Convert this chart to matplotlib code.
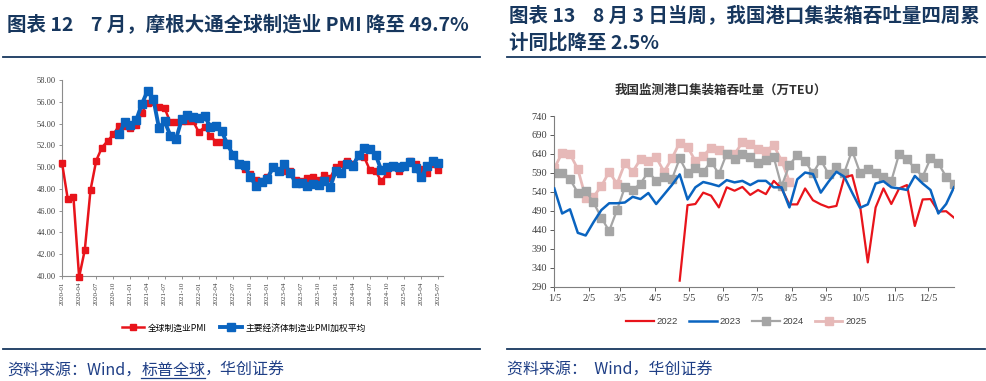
import numpy as np
import matplotlib
matplotlib.use("Agg")
import matplotlib.pyplot as plt
from matplotlib.lines import Line2D

plt.rcParams['font.family'] = ['Liberation Serif', 'Noto Sans CJK SC']
CJK = ['Noto Sans CJK SC', 'DejaVu Sans']

# ---- left chart: JPMorgan global manufacturing PMI, monthly 2020-01 .. 2025-07
months = [f"{y}-{m:02d}" for y in range(2020, 2026) for m in range(1, 13)][:67]
global_pmi = [
    50.4, 47.1, 47.3, 39.9, 42.4, 47.9, 50.6, 51.8, 52.4, 53.0, 53.8, 53.8,
    53.6, 53.9, 55.0, 55.9, 56.0, 55.5, 55.4, 54.1, 54.1, 54.2, 54.2, 54.2,
    53.2, 53.7, 52.9, 52.3, 52.3, 52.2, 51.1, 50.3, 49.8, 49.4, 48.8, 48.7,
    49.1, 50.0, 49.6, 49.6, 49.6, 48.8, 48.7, 49.0, 49.1, 48.8, 49.3, 49.0,
    50.0, 50.3, 50.6, 50.3, 51.0, 50.9, 49.7, 49.6, 48.7, 49.4, 50.0, 49.6,
    50.1, 50.6, 50.3, 49.8, 49.5, 50.3, 49.7,
]
major_pmi = [None] * 10 + [
    53.0, 54.1,
    53.9, 54.3, 55.8, 57.0, 56.3, 53.6, 54.2, 52.9, 52.6, 54.4, 54.8, 54.6,
    54.5, 54.7, 53.7, 53.8, 53.3, 52.1, 51.1, 50.3, 50.2, 49.1, 48.3, 48.6,
    48.9, 50.0, 49.6, 50.25, 49.5, 48.5, 48.5, 48.3, 48.45, 48.4, 48.75, 48.2,
    49.6, 49.5, 50.3, 50.1, 51.1, 51.8, 51.7, 51.1, 49.7, 50.0, 50.1, 50.0,
    50.1, 50.5, 49.9, 49.05, 50.1, 50.55, 50.4,
]

# ---- right chart: weekly container throughput (10k TEU), 52 weeks from 1/5
month_ticks = ["1/5", "2/5", "3/5", "4/5", "5/5", "6/5",
               "7/5", "8/5", "9/5", "10/5", "11/5", "12/5"]
month_tick_days = [5, 36, 64, 95, 125, 156, 186, 217, 248, 278, 309, 339]
teu_2022 = [None] * 16 + [
    306, 505, 508, 538, 530, 499, 552, 543, 553, 532, 545, 534, 569, 549,
    507, 507, 549, 518, 507, 499, 503, 578, 584, 505, 354, 499, 549, 508,
    549, 558, 450, 520, 521, 488, 489, 472,
]
teu_2023 = [
    549, 483, 494, 432, 425, 460, 492, 510, 510, 512, 527, 521, 537, 508,
    533, 558, 586, 520, 552, 566, 561, 555, 571, 565, 569, 558, 569, 569,
    552, 552, 499, 573, 591, 587, 538, 567, 593, 580, 538, 498, 507, 562,
    568, 552, 549, 545, 582, 562, 545, 483, 508, 552,
]
teu_2024 = [
    589, 591, 573, 538, 543, 512, 472, 437, 492, 552, 545, 562, 593, 569,
    578, 573, 628, 589, 602, 593, 620, 587, 641, 626, 641, 631, 617, 624,
    631, 555, 611, 637, 621, 589, 624, 587, 605, 591, 649, 591, 600, 591,
    578, 569, 640, 626, 602, 580, 628, 615, 580, 561,
]
teu_2025 = [
    602, 643, 640, 600, 525, 527, 555, 593, 561, 615, 593, 626, 622, 631,
    593, 628, 670, 659, 621, 635, 656, 650, 640, 639, 671, 665, 652, 648,
    663, 622, 567,
] + [None] * 21

NAVY = '#17375E'
SRC = '#1F3F86'
RED = '#E8141B'
BLUE = '#0A64C0'
GRAY = '#A5A5A5'
PINK = '#E6B9B8'
W, H = 987, 381


def arr(values):
    return np.array([np.nan if v is None else v for v in values], dtype=float)


def hline(fig, x0, x1, y):
    fig.add_artist(Line2D([x0 / W, x1 / W], [1 - y / H, 1 - y / H],
                          color=NAVY, lw=1.3, transform=fig.transFigure))


fig = plt.figure(figsize=(W / 100, H / 100), dpi=100)

# titles and rules
title_kw = dict(family=CJK, fontsize=14, fontweight='bold', color=NAVY, va='center')
fig.text(7 / W, 1 - 25 / H, "图表 12    7 月，摩根大通全球制造业 PMI 降至 49.7%", **title_kw)
fig.text(509 / W, 1 - 15 / H, "图表 13    8 月 3 日当周，我国港口集装箱吞吐量四周累", **title_kw)
fig.text(509 / W, 1 - 43 / H, "计同比降至 2.5%", **title_kw)
hline(fig, 3, 480, 57)
hline(fig, 507, 985, 57)
hline(fig, 3, 480, 349)
hline(fig, 507, 985, 349)

# ---- left chart
ax1 = fig.add_axes([62 / W, 1 - 276 / H, 381 / W, 196 / H])
x = np.arange(len(months))
ax1.plot(x, arr(global_pmi), color=RED, lw=1.8, marker='s', ms=4.5,
         clip_on=False, zorder=3, label="全球制造业PMI")
ax1.plot(x, arr(major_pmi), color=BLUE, lw=2.8, marker='s', ms=5.2,
         zorder=4, label="主要经济体制造业PMI加权平均")
ax1.set_xlim(0, 66.8)
ax1.set_ylim(40, 58)
ax1.set_yticks(np.arange(40, 58.1, 2))
ax1.set_yticklabels([f"{v:.2f}" for v in np.arange(40, 58.1, 2)])
ax1.set_xticks(x[::3])
ax1.set_xticklabels(months[::3], rotation=90)
ax1.tick_params(axis='y', labelsize=6, length=2.5, width=0.6, colors='#808080',
                labelcolor='#404040', pad=2)
ax1.tick_params(axis='x', labelsize=5, length=2.5, width=0.6, colors='#808080',
                labelcolor='#404040', pad=1.5)
for s in ('top', 'right'):
    ax1.spines[s].set_visible(False)
for s in ('left', 'bottom'):
    ax1.spines[s].set_color('#8C8C8C')
    ax1.spines[s].set_linewidth(0.8)
h1, l1 = ax1.get_legend_handles_labels()
fig.legend(h1, l1, loc='center', bbox_to_anchor=(244 / W, 1 - 328 / H), ncol=2,
           frameon=False, prop={'family': CJK, 'size': 6.3}, handlelength=2.5,
           handletextpad=0.4, columnspacing=1.6, borderaxespad=0)

# ---- right chart
fig.text(721 / W, 1 - 90 / H, "我国监测港口集装箱吞吐量（万TEU）",
         family=CJK, fontsize=9, fontweight='bold', color='#303030',
         ha='center', va='center')
ax2 = fig.add_axes([554.3 / W, 1 - 286.7 / H, 399.7 / W, 170.7 / H])
days = 5 + 7 * np.arange(52)
ax2.plot(days, arr(teu_2022), color=RED, lw=1.6, label="2022", zorder=3)
ax2.plot(days, arr(teu_2023), color=BLUE, lw=1.8, label="2023", zorder=4)
ax2.plot(days, arr(teu_2024), color=GRAY, lw=1.6, marker='s', ms=5.5,
         label="2024", zorder=2)
ax2.plot(days, arr(teu_2025), color=PINK, lw=2.0, marker='s', ms=5.5,
         label="2025", zorder=1)
ax2.set_xlim(5, 362)
ax2.set_ylim(290, 740)
ax2.set_yticks(np.arange(290, 741, 50))
ax2.set_xticks(month_tick_days)
ax2.set_xticklabels(month_ticks)
ax2.tick_params(labelsize=7.5, length=3, width=0.7, colors='#595959',
                labelcolor='#404040', pad=2)
for s in ('top', 'right'):
    ax2.spines[s].set_visible(False)
for s in ('left', 'bottom'):
    ax2.spines[s].set_color('#7F7F7F')
    ax2.spines[s].set_linewidth(0.8)
h2, l2 = ax2.get_legend_handles_labels()
fig.legend(h2, l2, loc='center', bbox_to_anchor=(746.5 / W, 1 - 322 / H), ncol=4,
           frameon=False, prop={'family': ['Liberation Sans'], 'size': 6.8},
           handlelength=2.9, handletextpad=0.3, columnspacing=1.2,
           borderaxespad=0, labelcolor='#404040')

# ---- sources (with underlined link text on the left)
fig.canvas.draw()
renderer = fig.canvas.get_renderer()
src_kw = dict(family=CJK, fontsize=11.5, color=SRC, va='center')
y_src = 1 - 370 / H
t = fig.text(7 / W, y_src, "资料来源：Wind，", **src_kw)
bb = t.get_window_extent(renderer)
t2 = fig.text(bb.x1 / W, y_src, "标普全球", **src_kw)
bb2 = t2.get_window_extent(renderer)
fig.add_artist(Line2D([bb2.x0 / W, bb2.x1 / W], [(bb2.y0 + 1) / H] * 2,
                      color=SRC, lw=0.9, transform=fig.transFigure))
fig.text(bb2.x1 / W, y_src, "，华创证券", **src_kw)
fig.text(507 / W, y_src, "资料来源：  Wind，华创证券", **src_kw)

fig.savefig("out.png", dpi=100)
